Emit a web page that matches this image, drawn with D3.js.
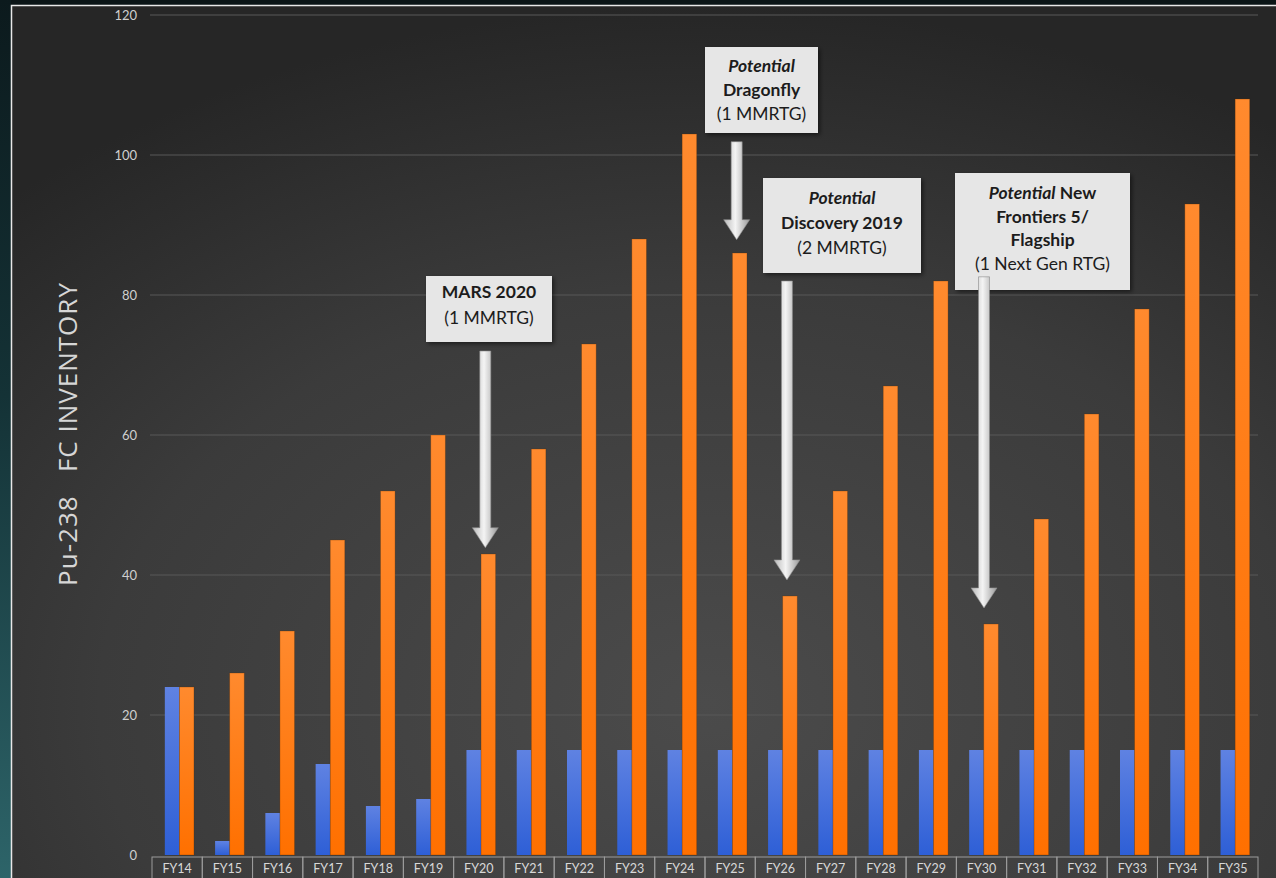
<!DOCTYPE html>
<html><head><meta charset="utf-8">
<script src="https://cdn.jsdelivr.net/npm/d3@7/dist/d3.min.js"></script>
<style>html,body{margin:0;padding:0;background:#0b1517;overflow:hidden}svg{display:block}</style>
</head><body>
<script>
const categories = ["FY14","FY15","FY16","FY17","FY18","FY19","FY20","FY21","FY22","FY23","FY24","FY25","FY26","FY27","FY28","FY29","FY30","FY31","FY32","FY33","FY34","FY35"];
const blueValues = [24,2,6,13,7,8,15,15,15,15,15,15,15,15,15,15,15,15,15,15,15,15];
const orangeValues = [24,26,32,45,52,60,43,58,73,88,103,86,37,52,67,82,33,48,63,78,93,108];
const yTicks = [0,20,40,60,80,100,120];
const yTitle = "Pu-238\u00a0\u00a0\u00a0FC INVENTORY";
const annotationCats = ["FY20","FY25","FY26","FY30"];
const annotationLines = [
  [[{t:"MARS 2020",b:true}],[{t:"(1 MMRTG)"}]],
  [[{t:"Potential",b:true,i:true}],[{t:"Dragonfly",b:true}],[{t:"(1 MMRTG)"}]],
  [[{t:"Potential",b:true,i:true}],[{t:"Discovery 2019",b:true}],[{t:"(2 MMRTG)"}]],
  [[{t:"Potential",b:true,i:true},{t:" New",b:true}],[{t:"Frontiers 5/",b:true}],[{t:"Flagship",b:true}],[{t:"(1 Next Gen RTG)"}]]
];
const arrowFrom = [72, 101.9, 82, 82.6];
const arrowTo = [43.9, 87.9, 39.3, 35.3];

const W = 1276, H = 878;
const svg = d3.select("body").append("svg").attr("width", W).attr("height", H);
const defs = svg.append("defs");

const lg = defs.append("linearGradient").attr("id","side").attr("x1",0).attr("y1",0).attr("x2",0).attr("y2",1);
lg.append("stop").attr("offset","0%").attr("stop-color","#0c1a1d");
lg.append("stop").attr("offset","45%").attr("stop-color","#143236");
lg.append("stop").attr("offset","100%").attr("stop-color","#2d6469");

const rg = defs.append("radialGradient").attr("id","panel").attr("cx","0.55").attr("cy","0.8").attr("r","0.8");
rg.append("stop").attr("offset","0%").attr("stop-color","#4b4b4b");
rg.append("stop").attr("offset","60%").attr("stop-color","#3b3b3b");
rg.append("stop").attr("offset","100%").attr("stop-color","#262626");

const bg = defs.append("linearGradient").attr("id","blueG").attr("x1",0).attr("y1",0).attr("x2",0).attr("y2",1);
bg.append("stop").attr("offset","0%").attr("stop-color","#5f82e2");
bg.append("stop").attr("offset","100%").attr("stop-color","#2e5fd6");
const og = defs.append("linearGradient").attr("id","orangeG").attr("x1",0).attr("y1",0).attr("x2",0).attr("y2",1);
og.append("stop").attr("offset","0%").attr("stop-color","#ff8a2e");
og.append("stop").attr("offset","100%").attr("stop-color","#ff7000");
const ag = defs.append("linearGradient").attr("id","arrowG").attr("x1",0).attr("y1",0).attr("x2",1).attr("y2",0);
ag.append("stop").attr("offset","0%").attr("stop-color","#b8b8b8");
ag.append("stop").attr("offset","45%").attr("stop-color","#f4f4f4");
ag.append("stop").attr("offset","100%").attr("stop-color","#9a9a9a");
const sh = defs.append("filter").attr("id","shadow").attr("x","-10%").attr("y","-10%").attr("width","130%").attr("height","130%");
sh.append("feDropShadow").attr("dx",2).attr("dy",2).attr("stdDeviation",2).attr("flood-color","#000").attr("flood-opacity",0.5);

// background
svg.append("rect").attr("x",0).attr("y",0).attr("width",W).attr("height",H).attr("fill","#0b1517");
svg.append("rect").attr("x",0).attr("y",0).attr("width",11).attr("height",H).attr("fill","url(#side)");
svg.append("rect").attr("x",11).attr("y",5).attr("width",W-11).attr("height",H-5).attr("fill","url(#panel)");
svg.append("path").attr("d",`M11.5,${H} V5.5 H${W}`).attr("fill","none").attr("stroke","#e8e8e8").attr("stroke-width",1.5);

const x = d3.scaleBand().domain(categories).range([152, 1258]);
const bw = x.bandwidth();
const x1 = d3.scaleBand().domain(["b","o"]).range([bw*0.255, bw*0.835]);
const y = d3.scaleLinear().domain([0,120]).range([855,15]);

// gridlines
svg.append("g").selectAll("line").data(yTicks.filter(d=>d>0)).join("line")
  .attr("x1",150).attr("x2",1258).attr("y1",d=>y(d)).attr("y2",d=>y(d))
  .attr("stroke","#585858").attr("stroke-width",1);

// y axis
const yAxis = svg.append("g").attr("transform","translate(139,0)")
  .call(d3.axisLeft(y).tickValues(yTicks).tickSize(0).tickPadding(2));
yAxis.select(".domain").remove();
yAxis.selectAll("text").attr("fill","#cfcfcf").style("font-family","Lato, 'Open Sans', sans-serif").style("font-size","13px");

// y title
svg.append("text").attr("transform","translate(77,434) rotate(-90)").attr("text-anchor","middle")
  .attr("fill","#d6d6d6").style("font-family","'Open Sans', sans-serif").style("font-size","26px")
  .style("letter-spacing","1px").text(yTitle);

// bars
const groups = svg.append("g").selectAll("g").data(categories).join("g").attr("transform",d=>`translate(${x(d)},0)`);
groups.append("rect").attr("x",x1("b")).attr("width",x1.bandwidth())
  .attr("y",(d,i)=>y(blueValues[i])).attr("height",(d,i)=>y(0)-y(blueValues[i])).attr("fill","url(#blueG)");
groups.append("rect").attr("x",x1("o")).attr("width",x1.bandwidth())
  .attr("y",(d,i)=>y(orangeValues[i])).attr("height",(d,i)=>y(0)-y(orangeValues[i])).attr("fill","url(#orangeG)")
  .attr("stroke","#5a2a00").attr("stroke-opacity",0.35).attr("stroke-width",0.8);

// x axis boxes
const xa = svg.append("g");
xa.selectAll("rect").data(categories).join("rect")
  .attr("x",d=>x(d)).attr("y",857).attr("width",bw).attr("height",30)
  .attr("fill","none").attr("stroke","#9c9c9c").attr("stroke-width",1);
xa.selectAll("text").data(categories).join("text")
  .attr("x",d=>x(d)+bw/2).attr("y",873).attr("text-anchor","middle")
  .attr("fill","#d8d8d8").style("font-family","Lato, 'Open Sans', sans-serif").style("font-size","12.5px").text(d=>d);

// annotations
const boxes = [
  {x:426,y:276,w:126,h:66},
  {x:705,y:47,w:113,h:86},
  {x:763,y:178,w:158,h:95},
  {x:955,y:173,w:175,h:117}
];
const lineStart = [292, 66, 198, 193];
const lineGap = [26, 24, 25, 23.5];
annotationCats.forEach((c,k)=>{
  const b = boxes[k];
  svg.append("rect").attr("x",b.x).attr("y",b.y).attr("width",b.w).attr("height",b.h)
    .attr("fill","#e6e6e6").attr("filter","url(#shadow)");
  const t = svg.append("text").attr("text-anchor","middle").attr("fill","#1c1c1c")
    .style("font-family","Lato, 'Open Sans', sans-serif").style("font-size","17.5px");
  annotationLines[k].forEach((line,li)=>{
    line.forEach((seg,si)=>{
      const ts = t.append("tspan").text(seg.t)
        .style("font-weight",seg.b?"bold":"normal").style("font-style",seg.i?"italic":"normal");
      if(si===0) ts.attr("x",b.x+b.w/2).attr("y",lineStart[k]+li*lineGap[k]+6);
    });
  });
  // arrow
  const ax = x(c)+bw*(k===3?0.55:0.63);
  const y0 = y(arrowFrom[k]), y1 = y(arrowTo[k]);
  const sw = 5.5, hw = 13, hh = 20;
  const p = `M${ax-sw},${y0} L${ax+sw},${y0} L${ax+sw},${y1-hh} L${ax+hw},${y1-hh} L${ax},${y1} L${ax-hw},${y1-hh} L${ax-sw},${y1-hh} Z`;
  svg.append("path").attr("d",p).attr("fill","url(#arrowG)").attr("stroke","#8a8a8a").attr("stroke-width",0.6);
});
</script>
</body></html>
